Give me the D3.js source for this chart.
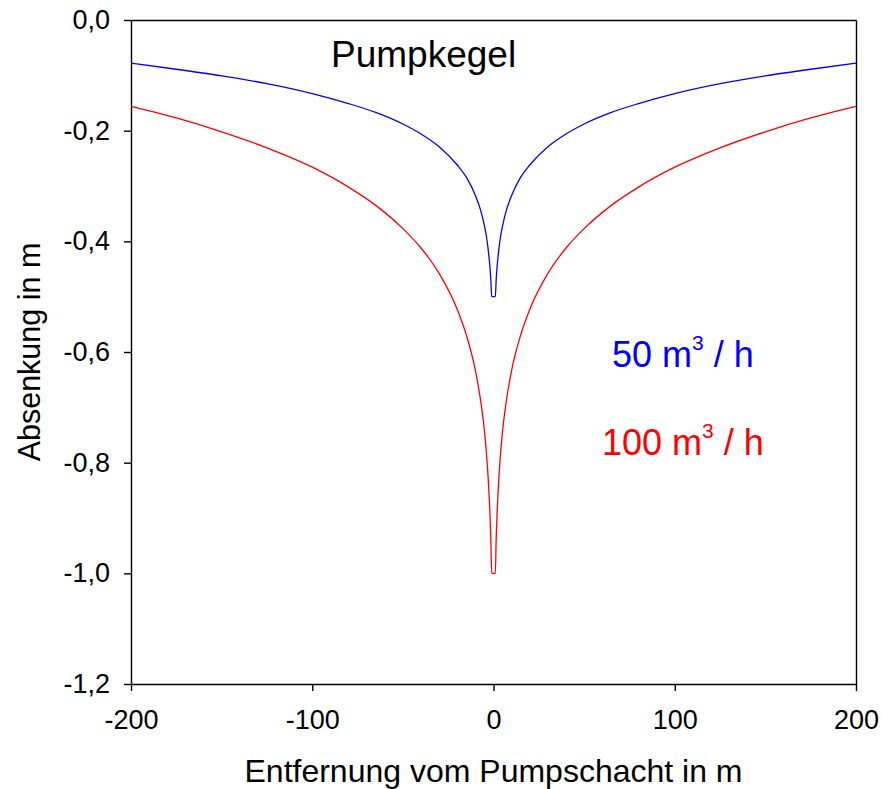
<!DOCTYPE html>
<meta charset="utf-8">
<style>
body { margin: 0; font-family: Arial, "Liberation Sans", sans-serif; background: #fff; }

.curve {
	fill: none;
	stroke-width: 1.3;
}

.axis path,
.axis line {
	fill: none;
	stroke: #000;
	stroke-width: 1.4;
}

.axis text {
	font-family: Arial, "Liberation Sans", sans-serif;
	font-size: 27px;
	fill: #000;
}
</style>
<head>
<title>Pumpkegel</title>
<script src="https://d3js.org/d3.v7.min.js"></script>
</head>
<body>
<script>

// distance from the shaft (m), same for both sides
var distances = [1, 1.5, 2, 3, 4, 5, 7, 10, 15, 20, 30, 40, 50, 65, 80, 100, 125, 150, 175, 200];

// drawdown (m) at those distances
var drawdown50  = [-0.500, -0.468, -0.445, -0.413, -0.389, -0.372, -0.345, -0.317, -0.284, -0.262,
                   -0.229, -0.206, -0.188, -0.167, -0.151, -0.133, -0.115, -0.101, -0.089, -0.078];
var drawdown100 = [-1.000, -0.935, -0.890, -0.825, -0.779, -0.743, -0.690, -0.633, -0.569, -0.523,
                   -0.458, -0.412, -0.377, -0.335, -0.302, -0.266, -0.231, -0.202, -0.177, -0.156];

var xTicks = [-200, -100, 0, 100, 200];
var yTicks = [0, -0.2, -0.4, -0.6, -0.8, -1.0, -1.2];

var margin = { left: 131, right: 26, top: 20, bottom: 105 };
var width = 882 - margin.left - margin.right,
    height = 789 - margin.top - margin.bottom;

var svg = d3.select("body")
    .append("svg")
    .attr("width", 882)
    .attr("height", 789);

var g = svg.append("g")
    .attr("transform", "translate(" + margin.left + "," + margin.top + ")");

// scales
var x = d3.scaleLinear().domain([-200, 200]).range([0, width]);
var y = d3.scaleLinear().domain([0, -1.2]).range([0, height]);

var fmt = function(d) { return d3.format(".1f")(d).replace(".", ",").replace("−", "-"); };

// frame: top and right lines without ticks
g.append("g")
    .attr("class", "axis")
    .call(d3.axisTop(x).tickValues([]).tickSizeOuter(0));
g.append("g")
    .attr("class", "axis")
    .attr("transform", "translate(" + width + ",0)")
    .call(d3.axisRight(y).tickValues([]).tickSizeOuter(0));

// x axis
g.append("g")
    .attr("class", "axis")
    .attr("transform", "translate(0," + height + ")")
    .call(d3.axisBottom(x).tickValues(xTicks).tickSize(7).tickSizeOuter(0).tickPadding(19)
        .tickFormat(function(d) { return String(d); }));

// y axis
g.append("g")
    .attr("class", "axis")
    .call(d3.axisLeft(y).tickValues(yTicks).tickSize(7).tickSizeOuter(0).tickPadding(14)
        .tickFormat(fmt));

// build both sides of each cone
function cone(values) {
    var pts = [];
    for (var i = distances.length - 1; i >= 0; i--) pts.push([-distances[i], values[i]]);
    for (var j = 0; j < distances.length; j++) pts.push([distances[j], values[j]]);
    return pts;
}

var line = d3.line()
    .x(function(d) { return x(d[0]); })
    .y(function(d) { return y(d[1]); })
    .curve(d3.curveMonotoneX);

g.append("path")
    .attr("class", "curve")
    .attr("stroke", "#0000ff")
    .attr("d", line(cone(drawdown50)));

g.append("path")
    .attr("class", "curve")
    .attr("stroke", "#ff0000")
    .attr("d", line(cone(drawdown100)));

// title inside the plot
svg.append("text")
    .attr("x", 331)
    .attr("y", 67)
    .attr("font-size", "37px")
    .text("Pumpkegel");

// legend labels with superscript
function legend(xp, yp, num, color) {
    var t = svg.append("text")
        .attr("x", xp)
        .attr("y", yp)
        .attr("font-size", "36px")
        .attr("fill", color);
    t.append("tspan").text(num + " m");
    t.append("tspan").attr("dy", -17).attr("font-size", "21px").text("3");
    t.append("tspan").attr("dy", 17).text(" / h");
}
legend(612, 367, "50", "#0000ff");
legend(602, 455, "100", "#ff0000");

// axis titles
svg.append("text")
    .attr("x", margin.left + width / 2)
    .attr("y", 782)
    .attr("font-size", "32px")
    .attr("text-anchor", "middle")
    .text("Entfernung vom Pumpschacht in m");

svg.append("text")
    .attr("transform", "translate(40," + (margin.top + height / 2) + ") rotate(-90)")
    .attr("font-size", "30.5px")
    .attr("text-anchor", "middle")
    .text("Absenkung in m");

</script>
</body>
</html>
